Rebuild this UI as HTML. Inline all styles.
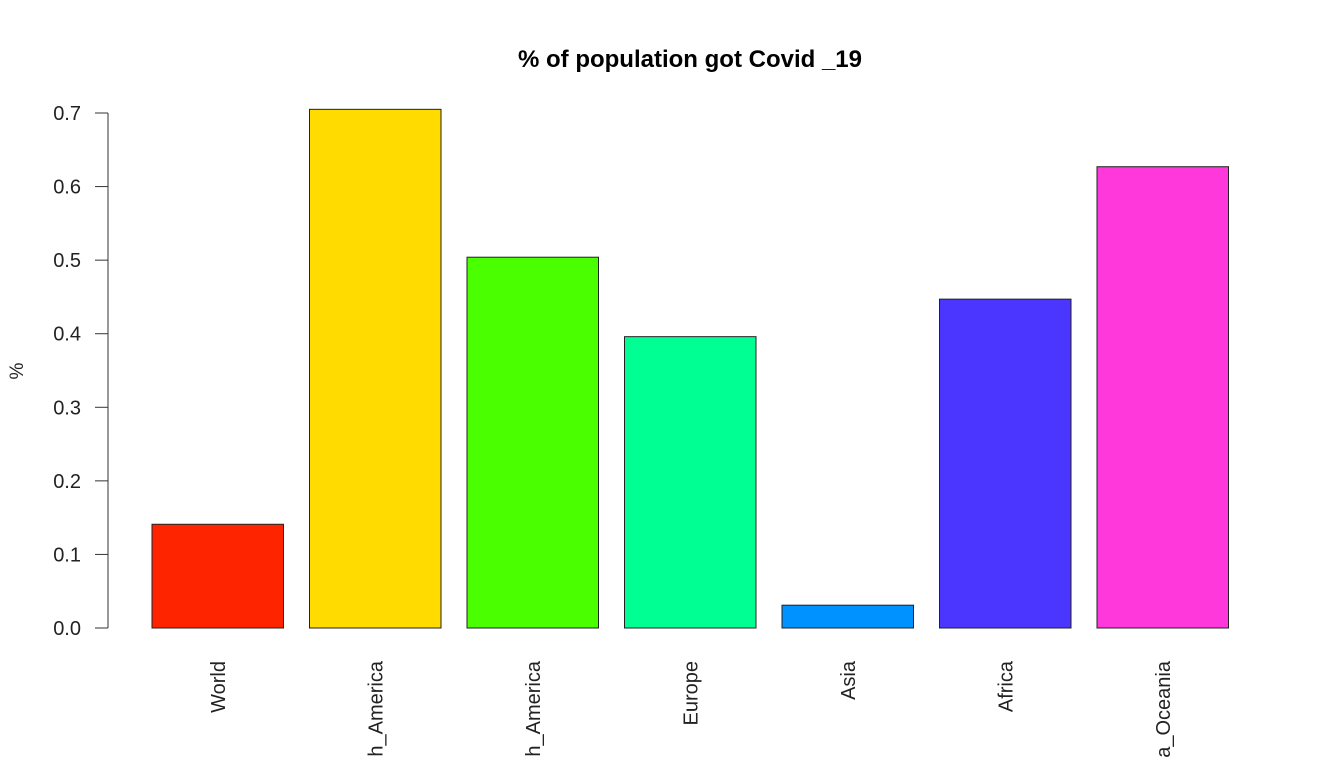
<!DOCTYPE html>
<html><head><meta charset="utf-8"><style>
html,body{margin:0;padding:0;background:#fff;width:1327px;height:766px;overflow:hidden}
svg text{font-family:"Liberation Sans",Arial,sans-serif}
</style></head><body>
<svg id="chart" width="1327" height="766" style="display:block">
<text x="690" y="67" text-anchor="middle" font-size="24" font-weight="bold">% of population got Covid _19</text>
<text transform="translate(23,371) rotate(-90)" text-anchor="middle" font-size="19" fill="#222">%</text>
<g id="yaxis"></g>
<g id="bars"></g>
<g id="xlabels"></g>
</svg>
<script>
const categories = ["World","h_America","h_America","Europe","Asia","Africa","a_Oceania"];
const values = [0.141, 0.705, 0.504, 0.396, 0.031, 0.447, 0.627];
const colors = ["#FF2400","#FFDB00","#49FF00","#00FF92","#0092FF","#4A36FF","#FF38DB"];
const yTicks = [0,0.1,0.2,0.3,0.4,0.5,0.6,0.7];
const NS="http://www.w3.org/2000/svg";
function y(v){return 628 - v*735.7;}
function xLeft(i){return 152 + i*157.5;}
const barW=131.5;
const ya=document.getElementById('yaxis');
let l=document.createElementNS(NS,'line');
l.setAttribute('x1',108);l.setAttribute('x2',108);l.setAttribute('y1',y(yTicks[0]));l.setAttribute('y2',y(yTicks[yTicks.length-1]));l.setAttribute('stroke','#333');


ya.appendChild(l);
yTicks.forEach(t=>{
  const tk=document.createElementNS(NS,'line');
  tk.setAttribute('x1',95);tk.setAttribute('x2',108);tk.setAttribute('y1',y(t));tk.setAttribute('y2',y(t));tk.setAttribute('stroke','#333');
  
  
  ya.appendChild(tk);
  const tx=document.createElementNS(NS,'text');
  tx.setAttribute('x',81);tx.setAttribute('y',y(t)+7);tx.setAttribute('text-anchor','end');tx.setAttribute('font-size','20');tx.setAttribute('fill','#222');
  tx.textContent=t.toFixed(1);
  
  
  ya.appendChild(tx);
});
const bg=document.getElementById('bars'), xl=document.getElementById('xlabels');
categories.forEach((c,i)=>{
  const r=document.createElementNS(NS,'rect');
  r.setAttribute('x',xLeft(i));r.setAttribute('width',barW);r.setAttribute('y',y(values[i]));r.setAttribute('height',y(0)-y(values[i]));
  r.setAttribute('fill',colors[i]);r.setAttribute('stroke','#222');r.setAttribute('stroke-width','1');
  
  
  bg.appendChild(r);
  const t=document.createElementNS(NS,'text');
  const cx=xLeft(i)+barW/2+7;
  t.setAttribute('transform','translate('+cx+',661) rotate(-90)');
  t.setAttribute('text-anchor','end');t.setAttribute('font-size','20');t.setAttribute('fill','#222');
  t.textContent=c;
  
  
  xl.appendChild(t);
});
</script>
</body></html>
